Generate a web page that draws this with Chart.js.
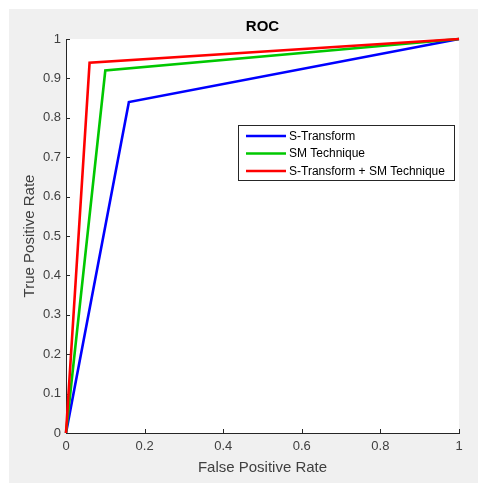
<!DOCTYPE html>
<html>
<head>
<meta charset="utf-8">
<script src="https://cdn.jsdelivr.net/npm/chart.js@4.4.1/dist/chart.umd.min.js"></script>
<style>
  html, body { margin: 0; padding: 0; background: #ffffff; }
  #c { display: block; }
</style>
</head>
<body>
<canvas id="c" width="478" height="483"></canvas>
<script>
// ---- Data ----
const seriesNames = ['S-Transform', 'SM Technique', 'S-Transform + SM Technique'];
const seriesColors = ['#0000ff', '#00c800', '#ff0000'];
const sTransformFPR = [0, 0.16, 1];
const sTransformTPR = [0, 0.84, 1];
const smTechFPR = [0, 0.10, 1];
const smTechTPR = [0, 0.92, 1];
const combinedFPR = [0, 0.06, 1];
const combinedTPR = [0, 0.94, 1];
const xTickValues = [0, 0.2, 0.4, 0.6, 0.8, 1];
const yTickValues = [0, 0.1, 0.2, 0.3, 0.4, 0.5, 0.6, 0.7, 0.8, 0.9, 1];
const chartTitle = 'ROC';
const xAxisTitle = 'False Positive Rate';
const yAxisTitle = 'True Positive Rate';

const FONT = '"Liberation Sans", Arial, Helvetica, sans-serif';
const AXIS_COLOR = '#262626';
const TEXT_COLOR = '#404040';

function toPoints(xs, ys) { return xs.map((x, i) => ({ x: x, y: ys[i] })); }
const seriesPoints = [
  toPoints(sTransformFPR, sTransformTPR),
  toPoints(smTechFPR, smTechTPR),
  toPoints(combinedFPR, combinedTPR)
];

const datasets = seriesNames.map((name, i) => ({
  label: name,
  data: seriesPoints[i],
  borderColor: seriesColors[i],
  backgroundColor: seriesColors[i],
  borderWidth: 2.6,
  pointRadius: 0,
  pointHoverRadius: 0,
  tension: 0,
  fill: false,
  clip: false,
  order: seriesNames.length - 1 - i
}));

const backgroundPlugin = {
  id: 'matlabBackground',
  beforeDraw(chart) {
    const ctx = chart.ctx;
    const a = chart.chartArea;
    ctx.save();
    ctx.fillStyle = '#ffffff';
    ctx.fillRect(0, 0, chart.width, chart.height);
    ctx.fillStyle = '#f0f0f0';
    ctx.fillRect(9, 9, chart.width - 9, chart.height - 9);
    ctx.fillStyle = '#ffffff';
    ctx.fillRect(a.left, a.top, a.right - a.left, a.bottom - a.top);
    ctx.restore();
  }
};

const axesTitlePlugin = {
  id: 'axesTitle',
  afterDraw(chart) {
    const ctx = chart.ctx;
    const a = chart.chartArea;
    ctx.save();
    ctx.font = 'bold 15px ' + FONT;
    ctx.fillStyle = '#000000';
    ctx.textAlign = 'center';
    ctx.textBaseline = 'middle';
    ctx.fillText(chartTitle, (a.left + a.right) / 2, 27);
    ctx.restore();
  }
};

const inwardTicksPlugin = {
  id: 'inwardTicks',
  beforeDatasetsDraw(chart) {
    const ctx = chart.ctx;
    const xs = chart.scales.x, ys = chart.scales.y;
    const a = chart.chartArea;
    const len = 4;
    ctx.save();
    ctx.strokeStyle = AXIS_COLOR;
    ctx.lineWidth = 1;
    ctx.beginPath();
    xTickValues.forEach(v => {
      const px = Math.round(xs.getPixelForValue(v)) + 0.5;
      ctx.moveTo(px, a.bottom);
      ctx.lineTo(px, a.bottom - len);
    });
    yTickValues.forEach(v => {
      const py = Math.round(ys.getPixelForValue(v)) + 0.5;
      ctx.moveTo(a.left, py);
      ctx.lineTo(a.left + len, py);
    });
    ctx.stroke();
    ctx.restore();
  }
};

const boxLegendPlugin = {
  id: 'boxLegend',
  afterDraw(chart) {
    const ctx = chart.ctx;
    const left = 238.5, top = 125.5, w = 216, h = 55;
    ctx.save();
    ctx.fillStyle = '#ffffff';
    ctx.fillRect(left, top, w, h);
    ctx.strokeStyle = AXIS_COLOR;
    ctx.lineWidth = 1;
    ctx.strokeRect(left, top, w, h);
    ctx.font = '12px ' + FONT;
    ctx.textBaseline = 'middle';
    ctx.textAlign = 'left';
    chart.data.datasets.forEach((ds, i) => {
      const y = 136 + i * 17.5;
      ctx.strokeStyle = ds.borderColor;
      ctx.lineWidth = 2.6;
      ctx.beginPath();
      ctx.moveTo(246, y);
      ctx.lineTo(286, y);
      ctx.stroke();
      ctx.fillStyle = '#000000';
      ctx.fillText(ds.label, 289, y + 0.5);
    });
    ctx.restore();
  }
};

new Chart(document.getElementById('c'), {
  type: 'line',
  data: { datasets: datasets },
  options: {
    responsive: false,
    animation: false,
    devicePixelRatio: 1,
    layout: { padding: { left: 0, right: 19, top: 39, bottom: 0 } },
    plugins: {
      legend: { display: false },
      tooltip: { enabled: false },
      title: { display: false }
    },
    scales: {
      x: {
        type: 'linear',
        min: 0,
        max: 1,
        afterFit(scale) { scale.height = 50; },
        afterBuildTicks(scale) { scale.ticks = xTickValues.map(v => ({ value: v })); },
        grid: { display: false, drawTicks: false, drawOnChartArea: false },
        border: { display: true, color: AXIS_COLOR, width: 1 },
        ticks: {
          color: TEXT_COLOR,
          padding: 6,
          maxRotation: 0,
          autoSkip: false,
          font: { family: FONT, size: 13 },
          callback: v => String(v)
        },
        title: {
          display: true,
          text: xAxisTitle,
          color: TEXT_COLOR,
          font: { family: FONT, size: 15, lineHeight: 1.2 },
          padding: { top: 0, bottom: 6.5 }
        }
      },
      y: {
        type: 'linear',
        min: 0,
        max: 1,
        afterFit(scale) { scale.width = 66; },
        afterBuildTicks(scale) { scale.ticks = yTickValues.map(v => ({ value: v })); },
        grid: { display: false, drawTicks: false, drawOnChartArea: false },
        border: { display: true, color: AXIS_COLOR, width: 1 },
        ticks: {
          color: TEXT_COLOR,
          padding: 5,
          autoSkip: false,
          font: { family: FONT, size: 13 },
          callback: v => String(v)
        },
        title: {
          display: true,
          text: yAxisTitle,
          color: TEXT_COLOR,
          font: { family: FONT, size: 15, lineHeight: 1.2 },
          padding: { top: 21, bottom: 0 }
        }
      }
    }
  },
  plugins: [backgroundPlugin, inwardTicksPlugin, boxLegendPlugin, axesTitlePlugin]
});
</script>
</body>
</html>
